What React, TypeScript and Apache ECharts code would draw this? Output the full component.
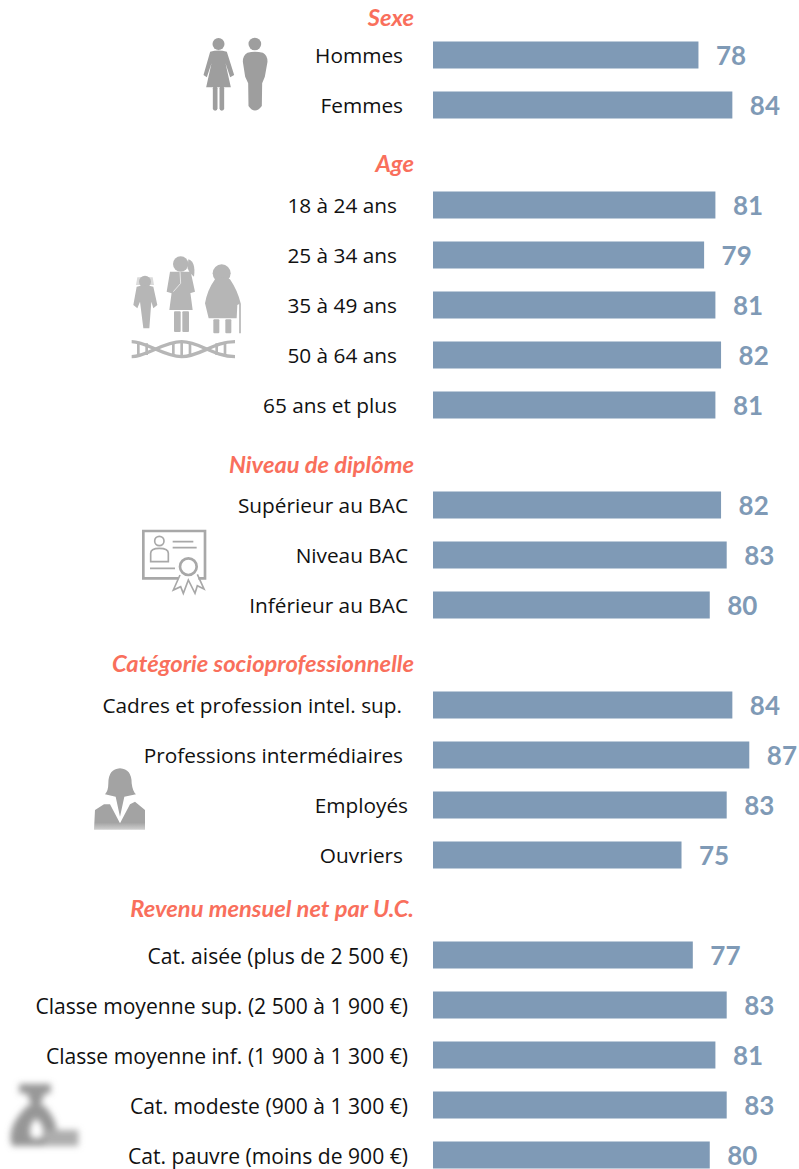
import React, { useEffect, useRef } from "react";
import * as echarts from "echarts";

const categories = [
  "",
  "Hommes", "Femmes", "",
  "18 à 24 ans", "25 à 34 ans", "35 à 49 ans", "50 à 64 ans", "65 ans et plus", "",
  "Supérieur au BAC", "Niveau BAC", "Inférieur au BAC", "",
  "Cadres et profession intel. sup.", "Professions intermédiaires", "Employés", "Ouvriers", "",
  "Cat. aisée (plus de 2 500 €)", "Classe moyenne sup. (2 500 à 1 900 €)", "Classe moyenne inf. (1 900 à 1 300 €)",
  "Cat. modeste (900 à 1 300 €)", "Cat. pauvre (moins de 900 €)",
];
const values = [
  null,
  78, 84, null,
  81, 79, 81, 82, 81, null,
  82, 83, 80, null,
  84, 87, 83, 75, null,
  77, 83, 81, 83, 80,
];
const labelPad = [
  0,
  6, 6, 0,
  12, 12, 12, 12, 12, 0,
  1, 1, 1, 0,
  7, 6, 1, 6, 0,
  1, 1, 1, 1, 1,
];
const labelSize = [
  20.8,
  20.8, 20.8, 20.8,
  20.8, 20.8, 20.8, 20.8, 20.8, 20.8,
  20.8, 20.8, 20.8, 20.8,
  20.8, 20.8, 20.8, 20.8, 20.8,
  21.1, 21.1, 21.1, 21.1, 21.1,
];
const sections = ["Sexe", "Age", "Niveau de diplôme", "Catégorie socioprofessionnelle", "Revenu mensuel net par U.C."];
const sectionY = [17, 163, 464, 663, 908];

const svgUri = (w: number, h: number, vw: number, vh: number, body: string, blur: number) =>
  "data:image/svg+xml;charset=utf-8," +
  encodeURIComponent(
    `<svg xmlns="http://www.w3.org/2000/svg" width="${w}" height="${h}" viewBox="0 0 ${vw} ${vh}"><defs><filter id="b" x="-20%" y="-20%" width="140%" height="140%"><feGaussianBlur stdDeviation="${blur}"/></filter><linearGradient id="f" x1="0" y1="0" x2="0" y2="1"><stop offset="0.75" stop-color="#a3a3a3"/><stop offset="1" stop-color="#d0d0d0"/></linearGradient></defs><g filter="url(#b)">${body}</g></svg>`
  );

const sexIcon = svgUri(87, 130, 260, 390, `<g fill="#9e9e9e">
<circle cx="85" cy="132" r="18"/>
<path d="M60,155 Q85,148 110,155 L132,225 L120,232 L106,190 L122,262 L48,262 L64,190 L50,232 L40,225 Z"/>
<rect x="68" y="258" width="14" height="74" rx="7"/><rect x="88" y="258" width="14" height="74" rx="7"/>
<circle cx="194" cy="132" r="19"/>
<path d="M172,158 Q194,152 218,158 Q232,165 232,185 L224,230 L216,250 L215,318 Q194,345 175,318 L174,250 L165,230 L158,185 Q158,165 172,158Z"/></g>`, 1);

const ageIcon = svgUri(130, 130, 390, 390, `<g fill="#b6b6b6">
<circle cx="75" cy="125" r="18"/><path d="M52,112 L98,112 L102,135 L48,135Z" opacity="0.5"/>
<path d="M50,140 Q75,133 100,140 L112,195 L100,205 L94,185 L88,265 L70,265 L60,185 L52,205 L40,195Z"/>
<circle cx="182" cy="72" r="23"/>
<path d="M205,58 Q228,65 222,110 Q208,100 203,85Z"/>
<path d="M150,95 L212,95 L225,155 L210,160 L208,135 L218,210 L148,210 L158,135 L155,160 L140,155Z"/>
<rect x="162" y="214" width="20" height="62" rx="3"/><rect x="187" y="214" width="20" height="62" rx="3"/>
<circle cx="305" cy="100" r="27"/>
<path d="M285,118 Q305,105 330,118 Q352,150 362,190 L352,195 L350,235 L266,235 L255,190 Q262,150 285,118Z"/>
<rect x="280" y="238" width="18" height="42" rx="3"/><rect x="316" y="238" width="18" height="42" rx="3"/>
</g>
<path d="M180,95 L182,130 M182,130 L160,155" stroke="#e8e8e8" stroke-width="3" fill="none"/>
<path d="M360,190 V280" stroke="#b6b6b6" stroke-width="5"/>
<g stroke="#b6b6b6" fill="none">
<path stroke-width="10" d="M35,305 C80,305 130,350 185,350 C240,350 280,305 345,305"/>
<path stroke-width="10" d="M35,350 C80,350 130,305 185,305 C240,305 280,350 345,350"/>
<path stroke-width="8" d="M55,305 V350 M80,310 V345 M160,310 V345 M185,305 V350 M210,310 V345 M290,310 V345 M315,305 V350"/>
</g>`, 1.8);

const diplomaIcon = svgUri(100, 90, 300, 270, `<g stroke="#a8a8a8" fill="none">
<path d="M175,190 H70 V48 H255 V190 H235" stroke-width="8"/>
<g stroke-width="5">
<circle cx="118" cy="78" r="14"/>
<path d="M92,140 V115 Q92,100 118,100 Q145,100 145,115 V140 Z"/>
<path d="M158,80 H220 M158,98 H230 M90,160 H165"/>
<circle cx="205" cy="155" r="25" stroke-width="8"/>
<path d="M180,180 L160,225 L182,215 L190,235 L205,195 L225,235 L232,212 L252,222 L232,178"/>
</g></g>`, 1.2);

const personIcon = svgUri(80, 90, 240, 270, `<g fill="url(#f)">
<path d="M120,40 Q155,42 155,85 Q158,110 168,118 L133,125 L120,185 L107,125 L75,118 Q85,108 85,85 Q85,42 120,40Z" fill="#a3a3a3"/>
<path d="M72,148 L45,165 L42,224 L195,224 L195,165 L165,140 L150,148 L120,205 L90,148Z"/>
</g>`, 1.5);

const moneyIcon = svgUri(100, 90, 300, 270, `<g fill="#969696">
<rect x="58" y="42" width="94" height="28"/>
<path d="M80,70 H135 L120,105 H95Z"/>
<path d="M85,105 H130 Q175,150 170,200 L135,228 H36 Q16,170 85,105Z M108,145 Q80,170 95,205 L125,205 Q140,170 108,145Z" fill-rule="evenodd"/>
<rect x="135" y="180" width="100" height="48" fill="#adadad"/>
</g>`, 10);

const icons = [
  { image: sexIcon, x: 190, y: 0, width: 87, height: 130 },
  { image: ageIcon, x: 120, y: 240, width: 130, height: 130 },
  { image: diplomaIcon, x: 120, y: 515, width: 100, height: 90 },
  { image: personIcon, x: 80, y: 755, width: 80, height: 90 },
  { image: moneyIcon, x: 0, y: 1070, width: 100, height: 90 },
];

export default function App() {
  const ref = useRef<HTMLDivElement>(null);
  useEffect(() => {
    document.body.style.margin = "0";
    const chart = echarts.init(ref.current!, null, { renderer: "svg" });
    chart.setOption({
      animation: false,
      backgroundColor: "#ffffff",
      grid: { left: 433, top: 5, width: 366, height: 1150, containLabel: false },
      xAxis: { type: "value", min: 31, max: 95.8, show: false },
      yAxis: {
        type: "category",
        inverse: true,
        boundaryGap: false,
        data: categories.map((c, i) => ({
          value: c,
          textStyle: { padding: [0, labelPad[i], 4, 0], fontSize: labelSize[i] },
        })),
        axisLine: { show: false },
        axisTick: { show: false },
        axisLabel: {
          interval: 0,
          margin: 24,
          fontFamily: "Open Sans",
          fontSize: 20.8,
          color: "#111111",
          align: "right",
        },
      },
      series: [
        {
          type: "bar",
          data: values,
          barWidth: 27,
          itemStyle: { color: "#7f9ab6" },
          label: {
            show: true,
            position: "right",
            distance: 17.5,
            fontFamily: "Lato",
            fontWeight: "bold",
            fontSize: 26,
            lineHeight: 22,
            color: "#7f9ab6",
          },
        },
      ],
      graphic: [
        ...sections.map((s, i) => ({
          type: "text",
          style: {
            text: s,
            x: 414,
            y: sectionY[i],
            align: "right",
            verticalAlign: "middle",
            fontFamily: "Lato",
            fontWeight: "bold",
            fontStyle: "italic",
            fontSize: 23.7,
            fill: "#f96f5c",
          },
        })),
        ...icons.map((ic) => ({
          type: "image",
          style: { image: ic.image, x: ic.x, y: ic.y, width: ic.width, height: ic.height },
        })),
      ],
    });
    return () => chart.dispose();
  }, []);
  return <div ref={ref} style={{ width: 799, height: 1169 }} />;
}
